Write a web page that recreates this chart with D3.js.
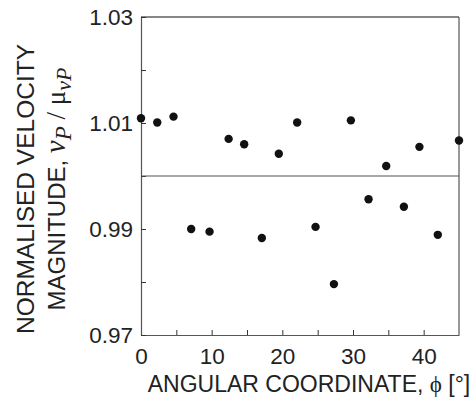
<!DOCTYPE html>
<html>
<head>
<meta charset="utf-8">
<script src="https://cdn.jsdelivr.net/npm/d3@7"></script>
<style>
  body { margin: 0; background: #fff; }
  text { font-family: "Liberation Sans", Arial, sans-serif; fill: #222; }
</style>
</head>
<body>
<div id="chart"></div>
<script>
// angular coordinate (deg) and normalised velocity magnitude
const phi = [0, 2.3, 4.6, 7.1, 9.7, 12.4, 14.6, 17.1, 19.5, 22.1, 24.7, 27.3, 29.7, 32.2, 34.7, 37.2, 39.4, 42.0, 45.0];
const vel = [1.0109, 1.0101, 1.0112, 0.9900, 0.9895, 1.0070, 1.0060, 0.9883, 1.0042, 1.0101, 0.9904, 0.9796, 1.0105, 0.9956, 1.0019, 0.9942, 1.0055, 0.9889, 1.0067];
const xTicks = [0, 10, 20, 30, 40];
const xMinor = [5, 15, 25, 35];
const yTicks = [0.97, 0.99, 1.01, 1.03];
const yMinor = [0.98, 1.00, 1.02];

const width = 476, height = 418;
const m = { left: 141, right: 17, top: 17, bottom: 83 };

const svg = d3.select("#chart").append("svg")
  .attr("width", width)
  .attr("height", height);

const x = d3.scaleLinear().domain([0, 45]).range([m.left, width - m.right]);
const y = d3.scaleLinear().domain([0.97, 1.03]).range([height - m.bottom, m.top]);

// frame
svg.append("line")
  .attr("x1", x(0)).attr("x2", x(45)).attr("y1", y(1.03)).attr("y2", y(1.03))
  .attr("stroke", "#111").attr("stroke-width", 1.2);
svg.append("line")
  .attr("x1", x(45)).attr("x2", x(45)).attr("y1", y(1.03)).attr("y2", y(0.97))
  .attr("stroke", "#555").attr("stroke-width", 1.2);

// axes, ticks pointing inward
const xAxis = svg.append("g")
  .attr("transform", "translate(0," + y(0.97) + ")")
  .call(d3.axisBottom(x).tickValues(xTicks.concat(xMinor)).tickSizeInner(-5).tickSizeOuter(0)
    .tickPadding(10).tickFormat(d => xTicks.includes(d) ? d : ""));
const yAxis = svg.append("g")
  .attr("transform", "translate(" + x(0) + ",0)")
  .call(d3.axisLeft(y).tickValues(yTicks.concat(yMinor)).tickSizeInner(-5).tickSizeOuter(0)
    .tickPadding(8).tickFormat(d => yTicks.includes(d) ? d3.format(".2f")(d) : ""));

[xAxis, yAxis].forEach(a => {
  a.select(".domain").attr("stroke", "#555").attr("stroke-width", 1.2);
  a.selectAll(".tick line").attr("stroke", "#333");
  a.selectAll(".tick text")
    .style("font-family", "'Liberation Sans', Arial, sans-serif")
    .style("font-size", "22.5px").attr("fill", "#222");
});
xAxis.selectAll(".tick text").attr("dy", "0.85em");

// reference line at 1.00
svg.append("line")
  .attr("x1", x(0)).attr("x2", x(45)).attr("y1", y(1.0)).attr("y2", y(1.0))
  .attr("stroke", "#555").attr("stroke-width", 1.2);

// points
svg.append("g").selectAll("circle")
  .data(phi.map((p, i) => [p, vel[i]]))
  .join("circle")
  .attr("cx", d => x(d[0]))
  .attr("cy", d => y(d[1]))
  .attr("r", 4.2)
  .attr("fill", "#111");

// x title
const xt = svg.append("text")
  .attr("x", 309).attr("y", 392)
  .attr("text-anchor", "middle")
  .style("font-size", "23px");
xt.append("tspan").text("ANGULAR COORDINATE, ");
xt.append("tspan").style("font-family", "'Liberation Serif', serif").text("ϕ");
xt.append("tspan").text(" [°]");

// y title (two lines)
const yt = svg.append("g").attr("transform", "translate(0,189) rotate(-90)");
yt.append("text")
  .attr("x", 0).attr("y", 34)
  .attr("text-anchor", "middle")
  .style("font-size", "24.5px")
  .text("NORMALISED  VELOCITY");
const l2 = yt.append("text")
  .attr("x", 0).attr("y", 65)
  .attr("text-anchor", "middle")
  .style("font-size", "24px");
const serif = "'Liberation Serif', 'DejaVu Serif', serif";
l2.append("tspan").text("MAGNITUDE, ");
l2.append("tspan").style("font-family", serif).style("font-style", "italic").style("font-size", "29px").text("ν");
l2.append("tspan").style("font-family", serif).style("font-style", "italic").style("font-size", "23px").attr("dy", 6).text("P");
l2.append("tspan").attr("dy", -6).style("font-family", serif).style("font-size", "27px").text(" / μ");
l2.append("tspan").style("font-family", serif).style("font-style", "italic").style("font-size", "22px").attr("dy", 6).text("νP");
</script>
</body>
</html>
